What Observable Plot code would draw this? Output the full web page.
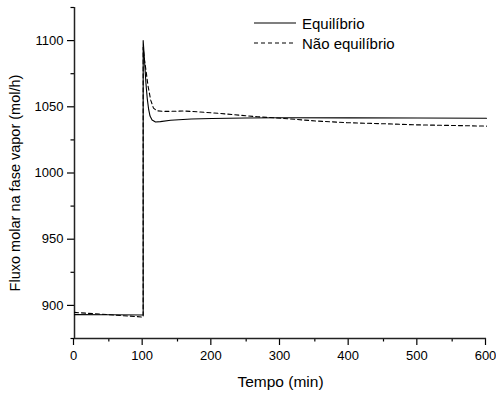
<!DOCTYPE html>
<html>
<head>
<meta charset="utf-8">
<script src="https://cdn.jsdelivr.net/npm/d3@7"></script>
<script src="https://cdn.jsdelivr.net/npm/@observablehq/plot@0.6"></script>
<style>
  body { margin: 0; background: #fff; font-family: Arial, "Liberation Sans", sans-serif; }
  #wrap { position: relative; width: 496px; height: 396px; }
  .leg { position: absolute; left: 254px; font-size: 15px; color: #000; display: flex; align-items: center; height: 18px; }
  .leg svg { margin-right: 6px; }
</style>
</head>
<body>
<div id="wrap"></div>
<script>
// Equilíbrio (solid)
const tEq = [0, 50, 100, 100, 102, 104, 106, 108, 110, 113, 118, 125, 140, 170, 200, 250, 300, 400, 500, 600];
const fluxEq = [893, 892.9, 892.8, 1100, 1085, 1068, 1056, 1048, 1043, 1040, 1038.5, 1038.8, 1039.8, 1040.8, 1041.2, 1041.5, 1041.7, 1041.6, 1041.5, 1041.4];
// Não equilíbrio (dashed)
const tNeq = [0, 50, 100, 100, 102, 104.5, 107, 111, 115, 120, 130, 160, 200, 266, 305, 354, 397, 450, 494, 550, 600];
const fluxNeq = [894.7, 893, 891.2, 1095, 1085, 1076, 1066, 1055, 1049, 1047, 1046.5, 1046.8, 1045.5, 1042.5, 1041.2, 1039.2, 1038, 1037.2, 1036.4, 1035.9, 1035.4];

const seriesNames = ["Equilíbrio", "Não equilíbrio"];
const xMajor = [0, 100, 200, 300, 400, 500, 600];
const xMinor = [50, 150, 250, 350, 450, 550];
const yMajor = [900, 950, 1000, 1050, 1100];
const yMinor = [875, 925, 975, 1025, 1075, 1125];
const xTitle = "Tempo (min)";
const yTitle = "Fluxo molar na fase vapor (mol/h)";

const eq = tEq.map((t, i) => ({t, v: fluxEq[i]}));
const neq = tNeq.map((t, i) => ({t, v: fluxNeq[i]}));

const chart = Plot.plot({
  width: 496,
  height: 396,
  marginLeft: 74,
  marginRight: 10,
  marginTop: 7,
  marginBottom: 58,
  style: {fontFamily: "Arial, 'Liberation Sans', sans-serif", fontSize: "13px", background: "#fff", color: "#000"},
  x: {domain: [0, 600]},
  y: {domain: [875, 1125]},
  marks: [
    Plot.axisX(xMajor, {tickSize: 7, tickPadding: 5, tickFormat: d => String(d), fontSize: 13, dx: -1, stroke: "#000", strokeWidth: 1.2, label: null}),
    Plot.axisX(xMinor, {tickSize: 3.5, tickFormat: () => "", stroke: "#000", strokeWidth: 1.2, label: null}),
    Plot.axisY(yMajor, {tickSize: 7, tickPadding: 4, tickFormat: d => String(d), fontSize: 13, stroke: "#000", strokeWidth: 1.2, label: null}),
    Plot.axisY(yMinor, {tickSize: 3.5, tickFormat: () => "", stroke: "#000", strokeWidth: 1.2, label: null}),
    Plot.ruleX([0], {stroke: "#222", strokeWidth: 1.5}),
    Plot.ruleY([875], {stroke: "#222", strokeWidth: 1.5}),
    Plot.line(neq, {x: "t", y: "v", stroke: "#000", strokeWidth: 1.1, strokeDasharray: "4,3"}),
    Plot.line(eq, {x: "t", y: "v", stroke: "#000", strokeWidth: 1.1}),
    Plot.text([xTitle], {frameAnchor: "bottom", dy: 44, lineAnchor: "middle", fontSize: 15.5, text: d => d}),
    Plot.text([yTitle], {frameAnchor: "left", dx: -59, dy: 10, rotate: -90, lineAnchor: "middle", textAnchor: "middle", fontSize: 14.5, text: d => d})
  ]
});

const wrap = document.getElementById("wrap");
wrap.appendChild(chart);

function legendItem(name, dash, top) {
  const div = document.createElement("div");
  div.className = "leg";
  div.style.top = (top - 9) + "px";
  div.innerHTML = `<svg width="42" height="4"><line x1="0" y1="2" x2="42" y2="2" stroke="#000" stroke-width="1.1" ${dash ? 'stroke-dasharray="4,3"' : ''}/></svg><span>${name}</span>`;
  wrap.appendChild(div);
}
legendItem(seriesNames[0], false, 23);
legendItem(seriesNames[1], true, 43);
</script>
</body>
</html>
